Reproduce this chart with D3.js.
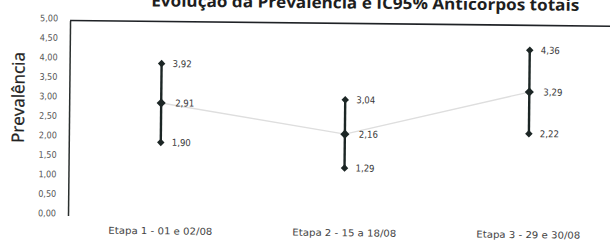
<!DOCTYPE html>
<html>
<head>
<meta charset="utf-8">
<script src="https://cdn.jsdelivr.net/npm/d3@7/dist/d3.min.js"></script>
<style>
  html, body { margin: 0; padding: 0; background: #fff; }
  svg { display: block; }
</style>
</head>
<body>
<svg id="chart" width="610" height="244"></svg>
<script>
const titleText = "Evolução da Prevalência e IC95% Anticorpos totais";
const yTitle = "Prevalência";
const categories = ["Etapa 1 - 01 e 02/08", "Etapa 2 - 15 a 18/08", "Etapa 3 - 29 e 30/08"];
const prevalence = [2.91, 2.16, 3.29];
const lower = [1.90, 1.29, 2.22];
const upper = [3.92, 3.04, 4.36];
const yTicks = [0, 0.5, 1, 1.5, 2, 2.5, 3, 3.5, 4, 4.5, 5];

const svg = d3.select("#chart");
const fmt = v => d3.format(".2f")(v).replace(".", ",");

const g = svg.append("g").attr("transform", "rotate(0.6,305,122)");

const x = d3.scalePoint().domain(categories).range([69, 621]).padding(0.5);
const y = d3.scaleLinear().domain([0, 5]).range([218, 23]);

// title (clipped at the top in the reference)
g.append("text")
  .attr("x", 364).attr("y", 8)
  .attr("text-anchor", "middle")
  .attr("font-family", "'Open Sans', 'DejaVu Sans', sans-serif")
  .attr("font-weight", "bold")
  .attr("font-size", 16)
  .attr("fill", "#1e1e1e")
  .attr("textLength", 428).attr("lengthAdjust", "spacingAndGlyphs")
  .text(titleText);

// y axis
const yAxis = d3.axisLeft(y).tickValues(yTicks).tickFormat(fmt).tickSize(0).tickPadding(12);
const ya = g.append("g").attr("transform", "translate(69,0)").call(yAxis);
ya.select(".domain").attr("stroke", "#2a2f2e").attr("stroke-width", 1.5);
ya.selectAll("text")
  .attr("font-family", "Tahoma, 'DejaVu Sans Condensed', 'DejaVu Sans', sans-serif")
  .attr("font-size", 9)
  .attr("fill", "#555")
  .attr("dy", "0.05em");

// top border of plot area
g.append("line")
  .attr("x1", 69).attr("x2", 640)
  .attr("y1", y(5)).attr("y2", y(5))
  .attr("stroke", "#1f2226").attr("stroke-width", 1.6);

// y title
g.append("text")
  .attr("transform", `translate(24,${(y(0) + y(5)) / 2 - 20}) rotate(-90)`)
  .attr("text-anchor", "middle")
  .attr("font-family", "'Open Sans', 'DejaVu Sans', sans-serif")
  .attr("font-size", 17)
  .attr("fill", "#222")
  .attr("stroke", "#222").attr("stroke-width", 0.3)
  .text(yTitle);

// x labels
const xAxis = d3.axisBottom(x).tickSize(0).tickPadding(0);
const xa = g.append("g").attr("transform", `translate(0,${y(0) + 11})`).call(xAxis);
xa.select(".domain").remove();
xa.selectAll("text")
  .attr("font-family", "Tahoma, 'DejaVu Sans Condensed', 'DejaVu Sans', sans-serif")
  .attr("font-size", 9.5)
  .attr("fill", "#444")
  .attr("textLength", 104).attr("lengthAdjust", "spacingAndGlyphs");

// faint connecting line of means
const line = d3.line().x((d, i) => x(categories[i])).y(d => y(d));
g.append("path")
  .datum(prevalence)
  .attr("d", line)
  .attr("fill", "none")
  .attr("stroke", "#dedede")
  .attr("stroke-width", 1.3);

// error bars
const bars = g.append("g").selectAll("g").data(categories).join("g");
bars.append("line")
  .attr("x1", d => x(d)).attr("x2", d => x(d))
  .attr("y1", (d, i) => y(upper[i])).attr("y2", (d, i) => y(lower[i]))
  .attr("stroke", "#1c2625").attr("stroke-width", 2.4);

// square diamonds (square symbol rotated by 45 degrees)
const sq = (s) => d3.symbol().type(d3.symbolSquare).size(s)();
bars.append("path").attr("d", sq(28))
  .attr("transform", (d, i) => `translate(${x(d)},${y(upper[i])}) rotate(45)`).attr("fill", "#1c2625");
bars.append("path").attr("d", sq(28))
  .attr("transform", (d, i) => `translate(${x(d)},${y(lower[i])}) rotate(45)`).attr("fill", "#1c2625");
bars.append("path").attr("d", sq(42))
  .attr("transform", (d, i) => `translate(${x(d)},${y(prevalence[i])}) rotate(45)`).attr("fill", "#1c2625");

// value labels
const lab = (arr, dx) => bars.append("text")
  .attr("x", d => x(d) + dx)
  .attr("y", (d, i) => y(arr[i]))
  .attr("dy", "0.35em")
  .attr("font-family", "Tahoma, 'DejaVu Sans Condensed', 'DejaVu Sans', sans-serif")
  .attr("font-size", 9.5)
  .attr("fill", "#3a3a3a")
  .text((d, i) => fmt(arr[i]));
lab(upper, 11);
lab(prevalence, 14);
lab(lower, 11);
</script>
</body>
</html>
